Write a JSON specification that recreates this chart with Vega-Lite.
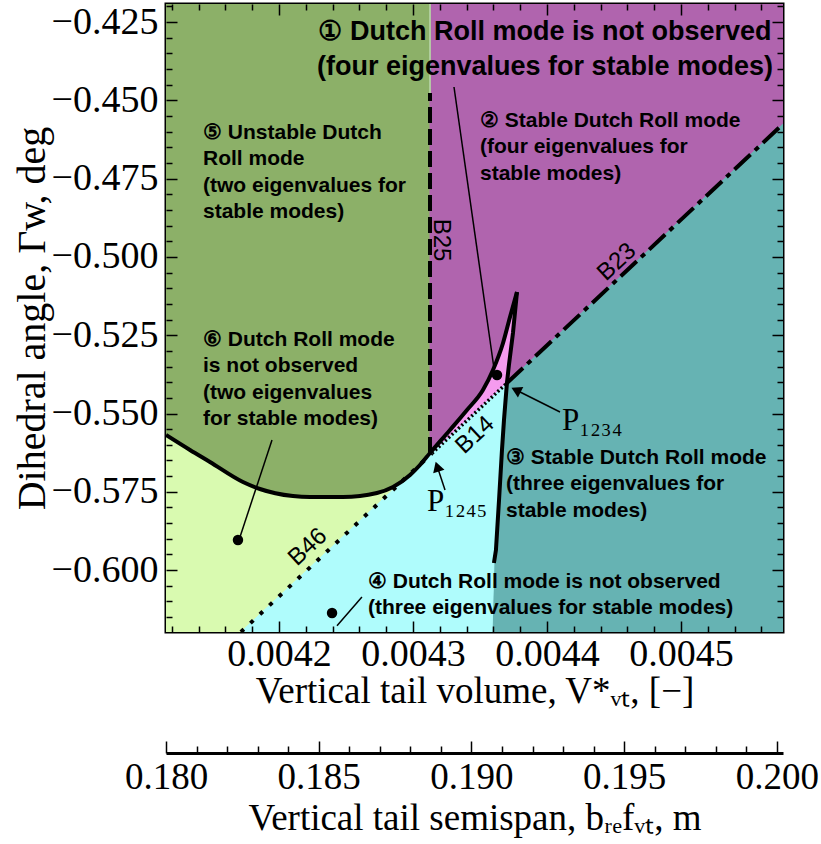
{
"$schema": "https://vega.github.io/schema/vega-lite/v6.json",
"width": 617,
"height": 628,
"autosize": {"type": "none"},
"padding": {"left": 166, "top": 4, "right": 38, "bottom": 212},
"background": "white",
"config": {"view": {"stroke": "black", "strokeWidth": 3}},
"datasets": {
"regions": [
{"r":"green","o":0,"x":0.0041157,"y":-0.41925},
{"r":"green","o":1,"x":0.0041157,"y":-0.55686},
{"r":"green","o":2,"x":0.0041336,"y":-0.56165},
{"r":"green","o":3,"x":0.0041485,"y":-0.56548},
{"r":"green","o":4,"x":0.0041731,"y":-0.57187},
{"r":"green","o":5,"x":0.0041858,"y":-0.57410},
{"r":"green","o":6,"x":0.0042104,"y":-0.57634},
{"r":"green","o":7,"x":0.0042231,"y":-0.57666},
{"r":"green","o":8,"x":0.0042478,"y":-0.57666},
{"r":"green","o":9,"x":0.0042731,"y":-0.57538},
{"r":"green","o":10,"x":0.0042851,"y":-0.57347},
{"r":"green","o":11,"x":0.0042978,"y":-0.56963},
{"r":"green","o":12,"x":0.0043052,"y":-0.56644},
{"r":"green","o":13,"x":0.0043127,"y":-0.56261},
{"r":"green","o":14,"x":0.0043127,"y":-0.41925},
{"r":"yellow","o":0,"x":0.0041157,"y":-0.55686},
{"r":"yellow","o":1,"x":0.0041336,"y":-0.56165},
{"r":"yellow","o":2,"x":0.0041485,"y":-0.56548},
{"r":"yellow","o":3,"x":0.0041731,"y":-0.57187},
{"r":"yellow","o":4,"x":0.0041858,"y":-0.57410},
{"r":"yellow","o":5,"x":0.0042104,"y":-0.57634},
{"r":"yellow","o":6,"x":0.0042231,"y":-0.57666},
{"r":"yellow","o":7,"x":0.0042478,"y":-0.57666},
{"r":"yellow","o":8,"x":0.0042731,"y":-0.57538},
{"r":"yellow","o":9,"x":0.0042851,"y":-0.57347},
{"r":"yellow","o":10,"x":0.0042978,"y":-0.56963},
{"r":"yellow","o":11,"x":0.0043052,"y":-0.56644},
{"r":"yellow","o":12,"x":0.0043127,"y":-0.56261},
{"r":"yellow","o":13,"x":0.0043142,"y":-0.5627},
{"r":"yellow","o":14,"x":0.0041716,"y":-0.61976},
{"r":"yellow","o":15,"x":0.0041157,"y":-0.61976},
{"r":"purple","o":0,"x":0.0043127,"y":-0.41925},
{"r":"purple","o":1,"x":0.0045761,"y":-0.41925},
{"r":"purple","o":2,"x":0.0045761,"y":-0.45757},
{"r":"purple","o":3,"x":0.0043701,"y":-0.54026},
{"r":"purple","o":4,"x":0.0043716,"y":-0.53451},
{"r":"purple","o":5,"x":0.0043746,"y":-0.52430},
{"r":"purple","o":6,"x":0.0043776,"y":-0.51121},
{"r":"purple","o":7,"x":0.0043724,"y":-0.51919},
{"r":"purple","o":8,"x":0.0043672,"y":-0.52749},
{"r":"purple","o":9,"x":0.0043597,"y":-0.53611},
{"r":"purple","o":10,"x":0.0043522,"y":-0.54250},
{"r":"purple","o":11,"x":0.0043403,"y":-0.54888},
{"r":"purple","o":12,"x":0.0043276,"y":-0.55527},
{"r":"purple","o":13,"x":0.0043127,"y":-0.56261},
{"r":"pink","o":0,"x":0.0043776,"y":-0.51121},
{"r":"pink","o":1,"x":0.0043746,"y":-0.52430},
{"r":"pink","o":2,"x":0.0043716,"y":-0.53451},
{"r":"pink","o":3,"x":0.0043701,"y":-0.54026},
{"r":"pink","o":4,"x":0.0043142,"y":-0.5627},
{"r":"pink","o":5,"x":0.0043276,"y":-0.55527},
{"r":"pink","o":6,"x":0.0043403,"y":-0.54888},
{"r":"pink","o":7,"x":0.0043522,"y":-0.54250},
{"r":"pink","o":8,"x":0.0043597,"y":-0.53611},
{"r":"pink","o":9,"x":0.0043672,"y":-0.52749},
{"r":"pink","o":10,"x":0.0043724,"y":-0.51919},
{"r":"teal","o":0,"x":0.0045761,"y":-0.45757},
{"r":"teal","o":1,"x":0.0045761,"y":-0.61976},
{"r":"teal","o":2,"x":0.004359,"y":-0.61976},
{"r":"teal","o":3,"x":0.0043604,"y":-0.59773},
{"r":"teal","o":4,"x":0.0043619,"y":-0.59358},
{"r":"teal","o":5,"x":0.0043642,"y":-0.57762},
{"r":"teal","o":6,"x":0.0043664,"y":-0.56165},
{"r":"teal","o":7,"x":0.0043679,"y":-0.55207},
{"r":"teal","o":8,"x":0.0043701,"y":-0.54026},
{"r":"cyan","o":0,"x":0.0041716,"y":-0.61976},
{"r":"cyan","o":1,"x":0.0043142,"y":-0.5627},
{"r":"cyan","o":2,"x":0.0043701,"y":-0.54026},
{"r":"cyan","o":3,"x":0.0043679,"y":-0.55207},
{"r":"cyan","o":4,"x":0.0043664,"y":-0.56165},
{"r":"cyan","o":5,"x":0.0043642,"y":-0.57762},
{"r":"cyan","o":6,"x":0.0043619,"y":-0.59358},
{"r":"cyan","o":7,"x":0.0043604,"y":-0.59773},
{"r":"cyan","o":8,"x":0.004359,"y":-0.61976}
],
"blines": [
{"seg":"B46","o":0,"x":0.0041716,"y":-0.61976},
{"seg":"B46","o":1,"x":0.0043142,"y":-0.5627},
{"seg":"B14","o":0,"x":0.0043142,"y":-0.5627},
{"seg":"B14","o":1,"x":0.0043701,"y":-0.54026},
{"seg":"B23","o":0,"x":0.0043701,"y":-0.54026},
{"seg":"B23","o":1,"x":0.0045761,"y":-0.45757},
{"seg":"B25","o":0,"x":0.0043127,"y":-0.56261},
{"seg":"B25","o":1,"x":0.0043127,"y":-0.4477},
{"seg":"B25t","o":0,"x":0.0043127,"y":-0.4477},
{"seg":"B25t","o":1,"x":0.0043127,"y":-0.41925}
],
"curve": [
{"part":"a","o":1,"x":0.0041157,"y":-0.55686},
{"part":"a","o":2,"x":0.0041336,"y":-0.56165},
{"part":"a","o":3,"x":0.0041485,"y":-0.56548},
{"part":"a","o":4,"x":0.0041731,"y":-0.57187},
{"part":"a","o":5,"x":0.0041858,"y":-0.57410},
{"part":"a","o":6,"x":0.0042104,"y":-0.57634},
{"part":"a","o":7,"x":0.0042231,"y":-0.57666},
{"part":"a","o":8,"x":0.0042478,"y":-0.57666},
{"part":"a","o":9,"x":0.0042731,"y":-0.57538},
{"part":"a","o":10,"x":0.0042851,"y":-0.57347},
{"part":"a","o":11,"x":0.0042978,"y":-0.56963},
{"part":"a","o":12,"x":0.0043052,"y":-0.56644},
{"part":"a","o":13,"x":0.0043127,"y":-0.56261},
{"part":"a","o":14,"x":0.0043276,"y":-0.55527},
{"part":"a","o":15,"x":0.0043403,"y":-0.54888},
{"part":"a","o":16,"x":0.0043522,"y":-0.54250},
{"part":"a","o":17,"x":0.0043597,"y":-0.53611},
{"part":"a","o":18,"x":0.0043672,"y":-0.52749},
{"part":"a","o":19,"x":0.0043724,"y":-0.51919},
{"part":"a","o":20,"x":0.0043776,"y":-0.51121},
{"part":"b","o":20,"x":0.0043776,"y":-0.51121},
{"part":"b","o":21,"x":0.0043746,"y":-0.52430},
{"part":"b","o":22,"x":0.0043716,"y":-0.53451},
{"part":"b","o":23,"x":0.0043701,"y":-0.54026},
{"part":"b","o":24,"x":0.0043679,"y":-0.55207},
{"part":"b","o":25,"x":0.0043664,"y":-0.56165},
{"part":"b","o":26,"x":0.0043642,"y":-0.57762},
{"part":"b","o":27,"x":0.0043619,"y":-0.59358},
{"part":"b","o":28,"x":0.0043604,"y":-0.59773}
],
"leaders": [
{"id":"L1","o":0,"x":0.0043306,"y":-0.44575},
{"id":"L1","o":1,"x":0.0043604,"y":-0.53547},
{"id":"L6","o":0,"x":0.0041948,"y":-0.55846},
{"id":"L6","o":1,"x":0.0041709,"y":-0.58943},
{"id":"L4","o":0,"x":0.0042433,"y":-0.61774},
{"id":"L4","o":1,"x":0.0042619,"y":-0.60859},
{"id":"A1","o":0,"x":0.0044097,"y":-0.54952},
{"id":"A1","o":1,"x":0.0043769,"y":-0.54249},
{"id":"A2","o":0,"x":0.0043239,"y":-0.57442},
{"id":"A2","o":1,"x":0.0043181,"y":-0.56695}
],
"heads": [
{"id":"A1","x":0.0043769,"y":-0.54249},
{"id":"A2","x":0.0043181,"y":-0.56695}
],
"dots": [
{"id":"1","x":0.0043627,"y":-0.53771},
{"id":"6","x":0.0041694,"y":-0.59039},
{"id":"4","x":0.0042396,"y":-0.61370}
],
"big": [
{"x":0.0043985,"y":-0.42819,"t":["① Dutch Roll mode is not observed","(four eigenvalues for stable modes)"]}
],
"notes": [
{"x":0.00435,"y":-0.45661,"t":["② Stable Dutch Roll mode","(four eigenvalues for","stable modes)"]},
{"x":0.0041433,"y":-0.46044,"t":["⑤ Unstable Dutch","Roll mode","(two eigenvalues for","stable modes)"]},
{"x":0.0041433,"y":-0.52653,"t":["⑥ Dutch Roll mode","is not observed","(two eigenvalues","for stable modes)"]},
{"x":0.0043694,"y":-0.56421,"t":["③ Stable Dutch Roll mode","(three eigenvalues for","stable modes)"]},
{"x":0.0042664,"y":-0.6038,"t":["④ Dutch Roll mode is not observed","(three eigenvalues for stable modes)"]}
],
"blabels": [
{"t":"B23","x":0.0044522,"y":-0.50163},
{"t":"B14","x":0.0043463,"y":-0.55686},
{"t":"B46","x":0.0042216,"y":-0.59262}
],
"b25label": [
{"t":"B25","x":0.0043209,"y":-0.49460}
],
"plabels": [
{"t":"P₁₂₃₄","x":0.0044112,"y":-0.55239},
{"t":"P₁₂₄₅","x":0.0043104,"y":-0.57825}
],
"frame": [
{"x":0.0042,"y":-0.5}
],
"span": [
{"b":0.18},
{"b":0.2}
]
},
"layer": [
{
"encoding": {
"x": {"field":"x","type":"quantitative","scale":{"domain":[0.0041157,0.0045761],"nice":false,"zero":false},
"axis":{"orient":"bottom","zindex":1,"values":[0.00412,0.00414,0.00416,0.00418,0.0042,0.00422,0.00424,0.00426,0.00428,0.0043,0.00432,0.00434,0.00436,0.00438,0.0044,0.00442,0.00444,0.00446,0.00448,0.0045,0.00452,0.00454,0.00456],
"labelExpr":"abs(datum.value*10000-round(datum.value*10000))<0.001 ? format(datum.value,'.4f') : ''",
"domain":false,"grid":false,
"tickSize":{"condition":{"test":"abs(datum.value*10000-round(datum.value*10000))<0.001","value":-11},"value":-6},
"tickWidth":1.5,"tickColor":"black",
"labelFont":"Liberation Serif","labelFontSize":38,"labelColor":"black","labelPadding":14,"labelFlush":false,"labelOverlap":false,"labelBound":false,
"title":"Vertical tail volume, V*ᵥₜ, [−]","titleFont":"Liberation Serif","titleFontSize":37,"titleFontWeight":"normal","titleColor":"black","titleY":59,"titleBaseline":"middle"}},
"y": {"field":"y","type":"quantitative","scale":{"domain":[-0.61976,-0.41925],"nice":false,"zero":false},
"axis":{"orient":"left","zindex":1,"values":[-0.42,-0.425,-0.43,-0.435,-0.44,-0.445,-0.45,-0.455,-0.46,-0.465,-0.47,-0.475,-0.48,-0.485,-0.49,-0.495,-0.5,-0.505,-0.51,-0.515,-0.52,-0.525,-0.53,-0.535,-0.54,-0.545,-0.55,-0.555,-0.56,-0.565,-0.57,-0.575,-0.58,-0.585,-0.59,-0.595,-0.6,-0.605,-0.61,-0.615],
"labelExpr":"abs(datum.value*40-round(datum.value*40))<0.001 ? format(datum.value,'.3f') : ''",
"domain":false,"grid":false,
"tickSize":{"condition":{"test":"abs(datum.value*40-round(datum.value*40))<0.001","value":-11},"value":-6},
"tickWidth":1.5,"tickColor":"black",
"labelFont":"Liberation Serif","labelFontSize":38,"labelColor":"black","labelPadding":19,"labelFlush":false,"labelOverlap":false,"labelBound":false,
"title":"Dihedral angle, Γw, deg","titleFont":"Liberation Serif","titleFontSize":40,"titleFontWeight":"normal","titleColor":"black","titleX":-134,"titleBaseline":"middle"}}
},
"layer": [
{"data":{"name":"regions"},"transform":[{"filter":"datum.r==='green'"}],"mark":{"type":"line","interpolate":"linear-closed","fill":"#8cb068","stroke":"#8cb068","strokeWidth":1,"clip":true},"encoding":{"order":{"field":"o","type":"quantitative"}}},
{"data":{"name":"regions"},"transform":[{"filter":"datum.r==='yellow'"}],"mark":{"type":"line","interpolate":"linear-closed","fill":"#d9fab0","stroke":"#d9fab0","strokeWidth":1,"clip":true},"encoding":{"order":{"field":"o","type":"quantitative"}}},
{"data":{"name":"regions"},"transform":[{"filter":"datum.r==='purple'"}],"mark":{"type":"line","interpolate":"linear-closed","fill":"#b064ae","stroke":"#b064ae","strokeWidth":1,"clip":true},"encoding":{"order":{"field":"o","type":"quantitative"}}},
{"data":{"name":"regions"},"transform":[{"filter":"datum.r==='pink'"}],"mark":{"type":"line","interpolate":"linear-closed","fill":"#f59bef","stroke":"#f59bef","strokeWidth":1,"clip":true},"encoding":{"order":{"field":"o","type":"quantitative"}}},
{"data":{"name":"regions"},"transform":[{"filter":"datum.r==='teal'"}],"mark":{"type":"line","interpolate":"linear-closed","fill":"#66b3b3","stroke":"#66b3b3","strokeWidth":1,"clip":true},"encoding":{"order":{"field":"o","type":"quantitative"}}},
{"data":{"name":"regions"},"transform":[{"filter":"datum.r==='cyan'"}],"mark":{"type":"line","interpolate":"linear-closed","fill":"#affcfc","stroke":"#affcfc","strokeWidth":1,"clip":true},"encoding":{"order":{"field":"o","type":"quantitative"}}},
{"data":{"name":"blines"},"transform":[{"filter":"datum.seg==='B46'"}],"mark":{"type":"line","stroke":"black","strokeWidth":4,"strokeDash":[4,9],"clip":true},"encoding":{"order":{"field":"o","type":"quantitative"}}},
{"data":{"name":"blines"},"transform":[{"filter":"datum.seg==='B14'"}],"mark":{"type":"line","stroke":"black","strokeWidth":3.5,"strokeDash":[2,2.5],"clip":true},"encoding":{"order":{"field":"o","type":"quantitative"}}},
{"data":{"name":"blines"},"transform":[{"filter":"datum.seg==='B23'"}],"mark":{"type":"line","stroke":"black","strokeWidth":4,"strokeDash":[22,6,5,6],"clip":true},"encoding":{"order":{"field":"o","type":"quantitative"}}},
{"data":{"name":"blines"},"transform":[{"filter":"datum.seg==='B25'"}],"mark":{"type":"line","stroke":"black","strokeWidth":4,"strokeDash":[16,6],"clip":true},"encoding":{"order":{"field":"o","type":"quantitative"}}},
{"data":{"name":"blines"},"transform":[{"filter":"datum.seg==='B25t'"}],"mark":{"type":"line","stroke":"#b5e6a3","strokeWidth":1.5,"clip":true},"encoding":{"order":{"field":"o","type":"quantitative"}}},
{"data":{"name":"curve"},"transform":[{"filter":"datum.part==='a'"}],"mark":{"type":"line","stroke":"black","strokeWidth":4,"interpolate":"monotone","clip":true},"encoding":{"order":{"field":"o","type":"quantitative"}}},
{"data":{"name":"curve"},"transform":[{"filter":"datum.part==='b'"}],"mark":{"type":"line","stroke":"black","strokeWidth":4,"clip":true},"encoding":{"order":{"field":"o","type":"quantitative"}}},
{"data":{"name":"leaders"},"mark":{"type":"line","stroke":"black","strokeWidth":1.5},"encoding":{"detail":{"field":"id"},"order":{"field":"o","type":"quantitative"}}},
{"data":{"name":"heads"},"transform":[{"filter":"datum.id==='A1'"}],"mark":{"type":"point","shape":"triangle-up","filled":true,"fill":"black","opacity":1,"size":140,"angle":297},"encoding":{}},
{"data":{"name":"heads"},"transform":[{"filter":"datum.id==='A2'"}],"mark":{"type":"point","shape":"triangle-up","filled":true,"fill":"black","opacity":1,"size":140,"angle":342},"encoding":{}},
{"data":{"name":"dots"},"mark":{"type":"point","shape":"circle","filled":true,"fill":"black","opacity":1,"size":110},"encoding":{}},
{"data":{"name":"big"},"mark":{"type":"text","font":"Liberation Sans","fontWeight":"bold","fontSize":27,"align":"center","baseline":"middle","lineHeight":35,"fill":"black"},"encoding":{"text":{"field":"t"}}},
{"data":{"name":"notes"},"mark":{"type":"text","font":"Liberation Sans","fontWeight":"bold","fontSize":21,"align":"left","baseline":"middle","lineHeight":26.3,"fill":"black"},"encoding":{"text":{"field":"t"}}},
{"data":{"name":"blabels"},"mark":{"type":"text","font":"Liberation Sans","fontSize":24,"align":"center","baseline":"middle","angle":317,"fill":"black"},"encoding":{"text":{"field":"t"}}},
{"data":{"name":"b25label"},"mark":{"type":"text","font":"Liberation Sans","fontSize":24,"align":"center","baseline":"middle","angle":90,"fill":"black"},"encoding":{"text":{"field":"t"}}},
{"data":{"name":"plabels"},"mark":{"type":"text","font":"Liberation Serif","fontSize":31,"align":"left","baseline":"middle","fill":"black"},"encoding":{"text":{"field":"t"}}}
]
},
{
"data":{"name":"frame"},
"mark":{"type":"point","opacity":0},
"encoding":{
"x":{"field":"x","type":"quantitative","scale":{"domain":[0.0041157,0.0045761],"nice":false,"zero":false},
"axis":{"orient":"top","zindex":1,"values":[0.00412,0.00414,0.00416,0.00418,0.0042,0.00422,0.00424,0.00426,0.00428,0.0043,0.00432,0.00434,0.00436,0.00438,0.0044,0.00442,0.00444,0.00446,0.00448,0.0045,0.00452,0.00454,0.00456],
"labels":false,"domain":false,"grid":false,"title":null,
"tickSize":{"condition":{"test":"abs(datum.value*10000-round(datum.value*10000))<0.001","value":-11},"value":-6},
"tickWidth":1.5,"tickColor":"black"}},
"y":{"field":"y","type":"quantitative","scale":{"domain":[-0.61976,-0.41925],"nice":false,"zero":false},
"axis":{"orient":"right","zindex":1,"values":[-0.42,-0.425,-0.43,-0.435,-0.44,-0.445,-0.45,-0.455,-0.46,-0.465,-0.47,-0.475,-0.48,-0.485,-0.49,-0.495,-0.5,-0.505,-0.51,-0.515,-0.52,-0.525,-0.53,-0.535,-0.54,-0.545,-0.55,-0.555,-0.56,-0.565,-0.57,-0.575,-0.58,-0.585,-0.59,-0.595,-0.6,-0.605,-0.61,-0.615],
"labels":false,"domain":false,"grid":false,"title":null,
"tickSize":{"condition":{"test":"abs(datum.value*40-round(datum.value*40))<0.001","value":-11},"value":-6},
"tickWidth":1.5,"tickColor":"black"}}
}
},
{
"data":{"name":"span"},
"mark":{"type":"point","opacity":0},
"encoding":{
"x":{"field":"b","type":"quantitative","scale":{"domain":[0.18,0.2002],"nice":false,"zero":false},
"axis":{"orient":"bottom","offset":121,"zindex":1,"values":[0.18,0.181,0.182,0.183,0.184,0.185,0.186,0.187,0.188,0.189,0.19,0.191,0.192,0.193,0.194,0.195,0.196,0.197,0.198,0.199,0.2],
"labelExpr":"abs(datum.value*200-round(datum.value*200))<0.001 ? format(datum.value,'.3f') : ''",
"domain":true,"domainColor":"black","domainWidth":3,"grid":false,
"tickSize":{"condition":{"test":"abs(datum.value*200-round(datum.value*200))<0.001","value":-12},"value":-7},
"tickWidth":1.5,"tickColor":"black",
"labelFont":"Liberation Serif","labelFontSize":37,"labelColor":"black","labelPadding":18,"labelFlush":false,"labelOverlap":false,"labelBound":false,
"title":"Vertical tail semispan, bᵣₑfᵥₜ, m","titleFont":"Liberation Serif","titleFontSize":37,"titleFontWeight":"normal","titleColor":"black","titleY":65,"titleBaseline":"middle"}}
}
}
],
"resolve": {"scale": {"x":"independent","y":"independent"}, "axis": {"x":"independent","y":"independent"}}
}
